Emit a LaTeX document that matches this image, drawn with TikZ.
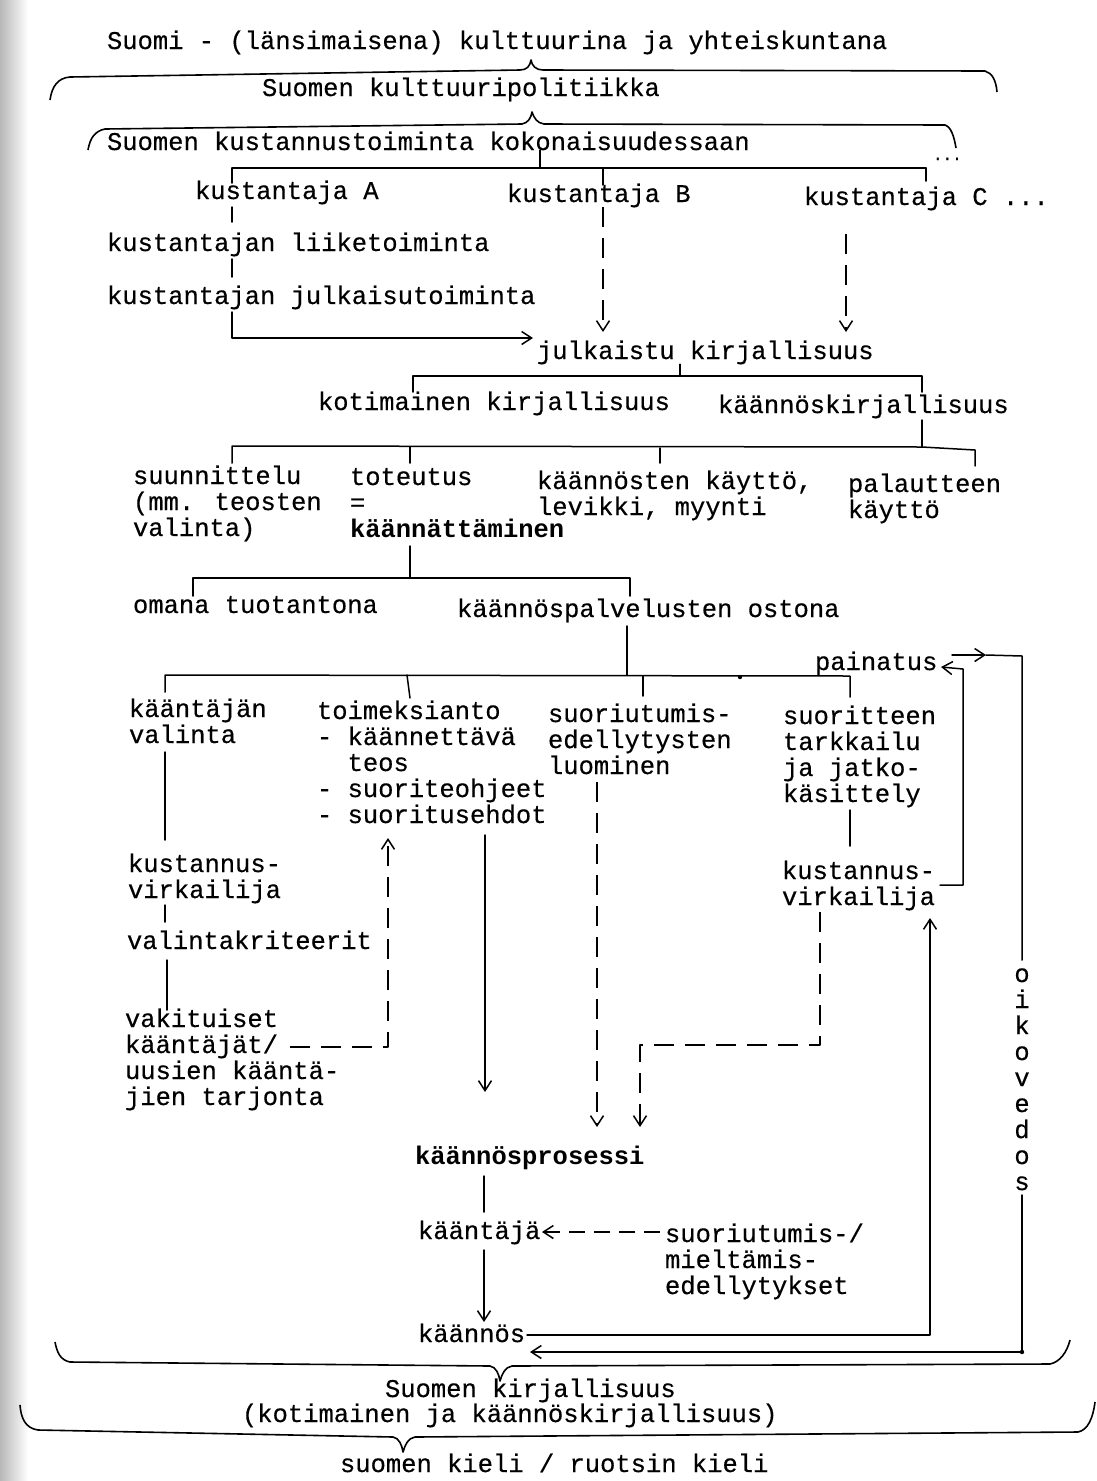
\documentclass[tikz,border=0pt]{standalone}
\usepackage{fontspec}
\setmainfont{Liberation Mono}[UprightFeatures={FakeBold=0.4}]
\usetikzlibrary{arrows.meta,calc}
\begin{document}
\begin{tikzpicture}[x=1pt,y=-1pt,
  txt/.style={anchor=base west,inner sep=0pt,outer sep=0pt,align=left,
    font=\fontsize{25.5}{26}\selectfont},
  ln/.style={line width=1.5pt,line cap=round,line join=round},
  dsh/.style={line width=1.5pt,line join=round,dash pattern=on 20pt off 11pt},
  arr/.style={-{Straight Barb[length=10pt,width=13pt,line width=1.5pt]}},
  brace/.style={line width=1.6pt,line join=round},
]
\useasboundingbox (0,0) rectangle (1097,1481);
\fill[white] (0,0) rectangle (1097,1481);
\shade[left color=black!28,right color=white] (0,0) rectangle (28,1481);

% ---------- texts (multi-line nodes: base = last line) ----------
\node[txt] (t1) at (107,49) {Suomi - (länsimaisena) kulttuurina ja yhteiskuntana};
\node[txt] (t2) at (262,96) {Suomen kulttuuripolitiikka};
\node[txt] (t3) at (107,150) {Suomen kustannustoiminta kokonaisuudessaan};
\node[txt,font=\fontsize{16}{16}\selectfont] (dots) at (933,160) {...};
\node[txt] (kA) at (195,199) {kustantaja A};
\node[txt] (kB) at (507,202) {kustantaja B};
\node[txt] (kC) at (804,205) {kustantaja C ...};
\node[txt] (liike) at (107,251) {kustantajan liiketoiminta};
\node[txt] (julk) at (107,304) {kustantajan julkaisutoiminta};
\node[txt] (jk) at (537,359) {julkaistu kirjallisuus};
\node[txt] (koti) at (318,410) {kotimainen kirjallisuus};
\node[txt] (kaan) at (718,413) {käännöskirjallisuus};
\node[txt] (suun) at (133,536) {suunnittelu\\(mm. teosten\\valinta)};
\node[txt] (tot) at (350,537) {toteutus\\=\\\textbf{käännättäminen}};
\node[txt] (kayt) at (537,515) {käännösten käyttö,\\levikki, myynti};
\node[txt] (pal) at (848,518) {palautteen\\käyttö};
\node[txt] (oma) at (133,613) {omana tuotantona};
\node[txt] (osto) at (457,617) {käännöspalvelusten ostona};
\node[txt] (painatus) at (815,670) {painatus};
\node[txt] (valinta) at (129,743) {kääntäjän\\valinta};
\node[txt] (toim) at (317,823) {toimeksianto\\- käännettävä\\\phantom{- }teos\\- suoriteohjeet\\- suoritusehdot};
\node[txt] (suor) at (548,774) {suoriutumis-\\edellytysten\\luominen};
\node[txt] (tark) at (783,802) {suoritteen\\tarkkailu\\ja jatko-\\käsittely};
\node[txt] (kv1) at (128,898) {kustannus-\\virkailija};
\node[txt] (krit) at (127,949) {valintakriteerit};
\node[txt] (vak) at (125,1105) {vakituiset\\kääntäjät/\\uusien kääntä-\\jien tarjonta};
\node[txt] (kv2) at (782,905) {kustannus-\\virkailija};
\node[txt,font=\fontsize{25.5}{26}\selectfont\bfseries] (kp) at (415,1164) {käännösprosessi};
\node[txt] (kaantaja) at (418,1239) {kääntäjä};
\node[txt] (edell) at (665,1294) {suoriutumis-/\\mieltämis-\\edellytykset};
\node[txt] (kaannos) at (418,1342) {käännös};
\node[txt,anchor=base,align=center] (oiko) at (1022,1190) {o\\i\\k\\o\\v\\e\\d\\o\\s};
\node[txt] (sk) at (385,1397) {Suomen kirjallisuus};
\node[txt] (skk) at (242,1422) {(kotimainen ja käännöskirjallisuus)};
\node[txt] (kieli) at (340,1472) {suomen kieli / ruotsin kieli};

% ---------- braces ----------
\draw[brace] (50,100) .. controls (52,86) and (58,78) .. (70,77) -- (520,70)
  .. controls (527,70) and (530,66) .. (531,60) .. controls (532,66) and (536,70) .. (543,70)
  -- (985,71) .. controls (992,73) and (996,80) .. (997,92);
\draw[brace] (88,150) .. controls (90,138) and (95,131) .. (105,129) -- (522,124)
  .. controls (528,123) and (531,118) .. (532,112) .. controls (534,118) and (537,123) .. (544,124)
  -- (945,125) .. controls (951,127) and (954,136) .. (956,148);
\draw[brace] (55,1342) .. controls (57,1352) and (60,1360) .. (70,1362) -- (490,1366)
  .. controls (496,1367) and (499,1374) .. (500,1381) .. controls (502,1374) and (505,1367) .. (512,1366)
  -- (1050,1364) .. controls (1060,1362) and (1067,1352) .. (1070,1340);
\draw[brace] (20,1405) .. controls (21,1418) and (25,1428) .. (38,1430) -- (393,1437)
  .. controls (399,1438) and (402,1445) .. (403,1452) .. controls (405,1445) and (408,1438) .. (415,1437)
  -- (1078,1432) .. controls (1088,1430) and (1093,1418) .. (1095,1402);

% ---------- publishers tree ----------
\coordinate (h1) at (540,168);
\coordinate (h1a) at (232,168);
\coordinate (h1b) at (603,168);
\coordinate (h1c) at (926,168);
\draw[ln] (t3.south -| h1) -- (h1);
\draw[ln] (h1a) -- (h1c);
\draw[ln] (h1a) -- ++(0,15);
\draw[ln] (h1b) -- ++(0,17);
\draw[ln] (h1c) -- ++(0,13);

\coordinate (a1) at (232,207);
\draw[ln] (a1) -- ++(0,15);
\draw[ln] (232,259) -- (232,277);
\coordinate (jkin) at (533,338);
\draw[ln,arr] (232,312) -- (232,338) -- (jkin);

\coordinate (bIn) at (603,332);
\coordinate (cIn) at (846,332);
\draw[dsh,arr] (603,207) -- (bIn);
\draw[dsh,arr] (846,234) -- (cIn);

% ---------- literature tree ----------
\coordinate (h2) at (680,376);
\draw[ln] (h2 |- jk.south) -- (h2);
\draw[ln] (413,392) -- (413,376) -- (922,376) -- (922,392);

\coordinate (h3r) at (975,450);
\draw[ln] (922,420) -- (922,447);
\draw[ln] (232,463) -- (232,446) -- (922,447) -- (h3r) -- (975,466);
\draw[ln] (410,447) -- (410,463);
\draw[ln] (660,448) -- (660,463);

\draw[ln] (410,546) -- (410,578);
\draw[ln] (193,596) -- (193,578) -- (630,578) -- (630,596);

\draw[ln] (627,626) -- (627,675);
\draw[ln] (165,692) -- (165,675) -- (850,676) -- (850,697);
\draw[ln] (407,675) -- (410,698);
\draw[ln] (643,676) -- (643,696);
\fill (740,677) circle (2.2pt);

% ---------- left column ----------
\draw[ln] (165,752) -- (165,840);
\draw[ln] (165,905) -- (165,922);
\draw[ln] (167,960) -- (167,1010);
\coordinate (toimIn) at (388,838);
\draw[dsh,arr] (290,1047) -- (388,1047) -- (toimIn);

% ---------- to the translation process ----------
\coordinate (kpA) at (485,1092);
\coordinate (kpB) at (597,1127);
\coordinate (kpC) at (640,1127);
\draw[ln,arr] (485,835) -- (kpA);
\draw[dsh,arr] (597,782) -- (kpB);
\draw[ln] (850,810) -- (850,846);
\draw[dsh,arr] (820,912) -- (820,1045) -- (640,1045) -- (kpC);

\draw[ln] (484,1176) -- (484,1212);
\coordinate (kaIn) at (542,1232);
\draw[dsh,arr,dash pattern=on 16pt off 9pt] (660,1232) -- (kaIn);
\coordinate (knIn) at (484,1322);
\draw[ln,arr] (484,1250) -- (knIn);

% ---------- feedback loop ----------
\coordinate (kvIn) at (930,918);
\draw[ln,arr] (527,1335) -- (930,1335) -- (kvIn);
\coordinate (paIn) at (941,667);
\draw[ln,arr] (940,885) -- (963,885) -- (963,669) -- (paIn);
\coordinate (pr) at (986,655);
\draw[ln,arr] (952,655) -- (pr);
\draw[ln] (pr) -- (1022,656) -- (1022,960);
\coordinate (kanIn) at (530,1352);
\draw[ln,arr] (1022,1195) -- (1022,1352) -- (kanIn);
\fill (1022,1352) circle (2.2pt);

\end{tikzpicture}
\end{document}
